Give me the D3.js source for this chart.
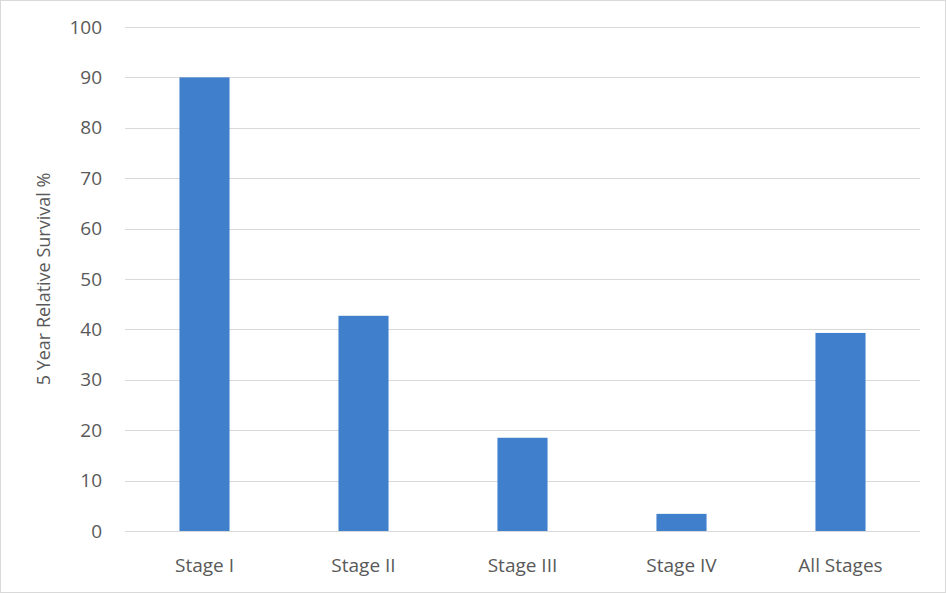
<!DOCTYPE html>
<html>
<head>
<meta charset="utf-8">
<script src="https://cdnjs.cloudflare.com/ajax/libs/d3/7.8.5/d3.min.js"></script>
<style>
body { margin: 0; background: #fff; }
text { font-family: "Open Sans", "Liberation Sans", sans-serif; fill: #595959; }
</style>
</head>
<body>
<script>
var categories = ["Stage I", "Stage II", "Stage III", "Stage IV", "All Stages"];
var values = [90, 42.7, 18.5, 3.4, 39.3];
var yTicks = [0, 10, 20, 30, 40, 50, 60, 70, 80, 90, 100];

var w = 946, h = 593;
var m = {left: 125, right: 26, top: 27, bottom: 62};

var svg = d3.select("body").append("svg")
  .attr("width", w).attr("height", h);

svg.append("rect")
  .attr("x", 0.5).attr("y", 0.5)
  .attr("width", w - 1).attr("height", h - 1)
  .attr("fill", "#fff").attr("stroke", "#d9d9d9");

var x = d3.scaleBand().domain(categories)
  .range([m.left, w - m.right]).paddingInner(0.685).paddingOuter(0.3425);
var y = d3.scaleLinear().domain([0, 100]).range([h - m.bottom, m.top]);

svg.selectAll("line.grid").data(yTicks).enter().append("line")
  .attr("class", "grid")
  .attr("x1", m.left).attr("x2", w - m.right)
  .attr("y1", function(d) { return Math.round(y(d)) + 0.5; })
  .attr("y2", function(d) { return Math.round(y(d)) + 0.5; })
  .attr("stroke", "#d9d9d9");

svg.selectAll("rect.bar").data(values).enter().append("rect")
  .attr("class", "bar")
  .attr("x", function(d, i) { return x(categories[i]); })
  .attr("width", x.bandwidth())
  .attr("y", function(d) { return y(d); })
  .attr("height", function(d) { return y(0) - y(d); })
  .attr("fill", "#3f7fcb");

svg.selectAll("text.ytick").data(yTicks).enter().append("text")
  .attr("class", "ytick")
  .attr("x", 102).attr("y", function(d) { return y(d); })
  .attr("dy", "0.35em").attr("text-anchor", "end")
  .attr("font-size", "19px")
  .text(function(d) { return d; });

svg.selectAll("text.xtick").data(categories).enter().append("text")
  .attr("class", "xtick")
  .attr("x", function(d) { return x(d) + x.bandwidth() / 2; })
  .attr("y", 572).attr("text-anchor", "middle")
  .attr("font-size", "19px")
  .text(function(d) { return d; });

svg.append("text")
  .attr("transform", "translate(50," + (y(50)) + ") rotate(-90)")
  .attr("text-anchor", "middle")
  .attr("font-size", "18px")
  .text("5 Year Relative Survival %");
</script>
</body>
</html>
